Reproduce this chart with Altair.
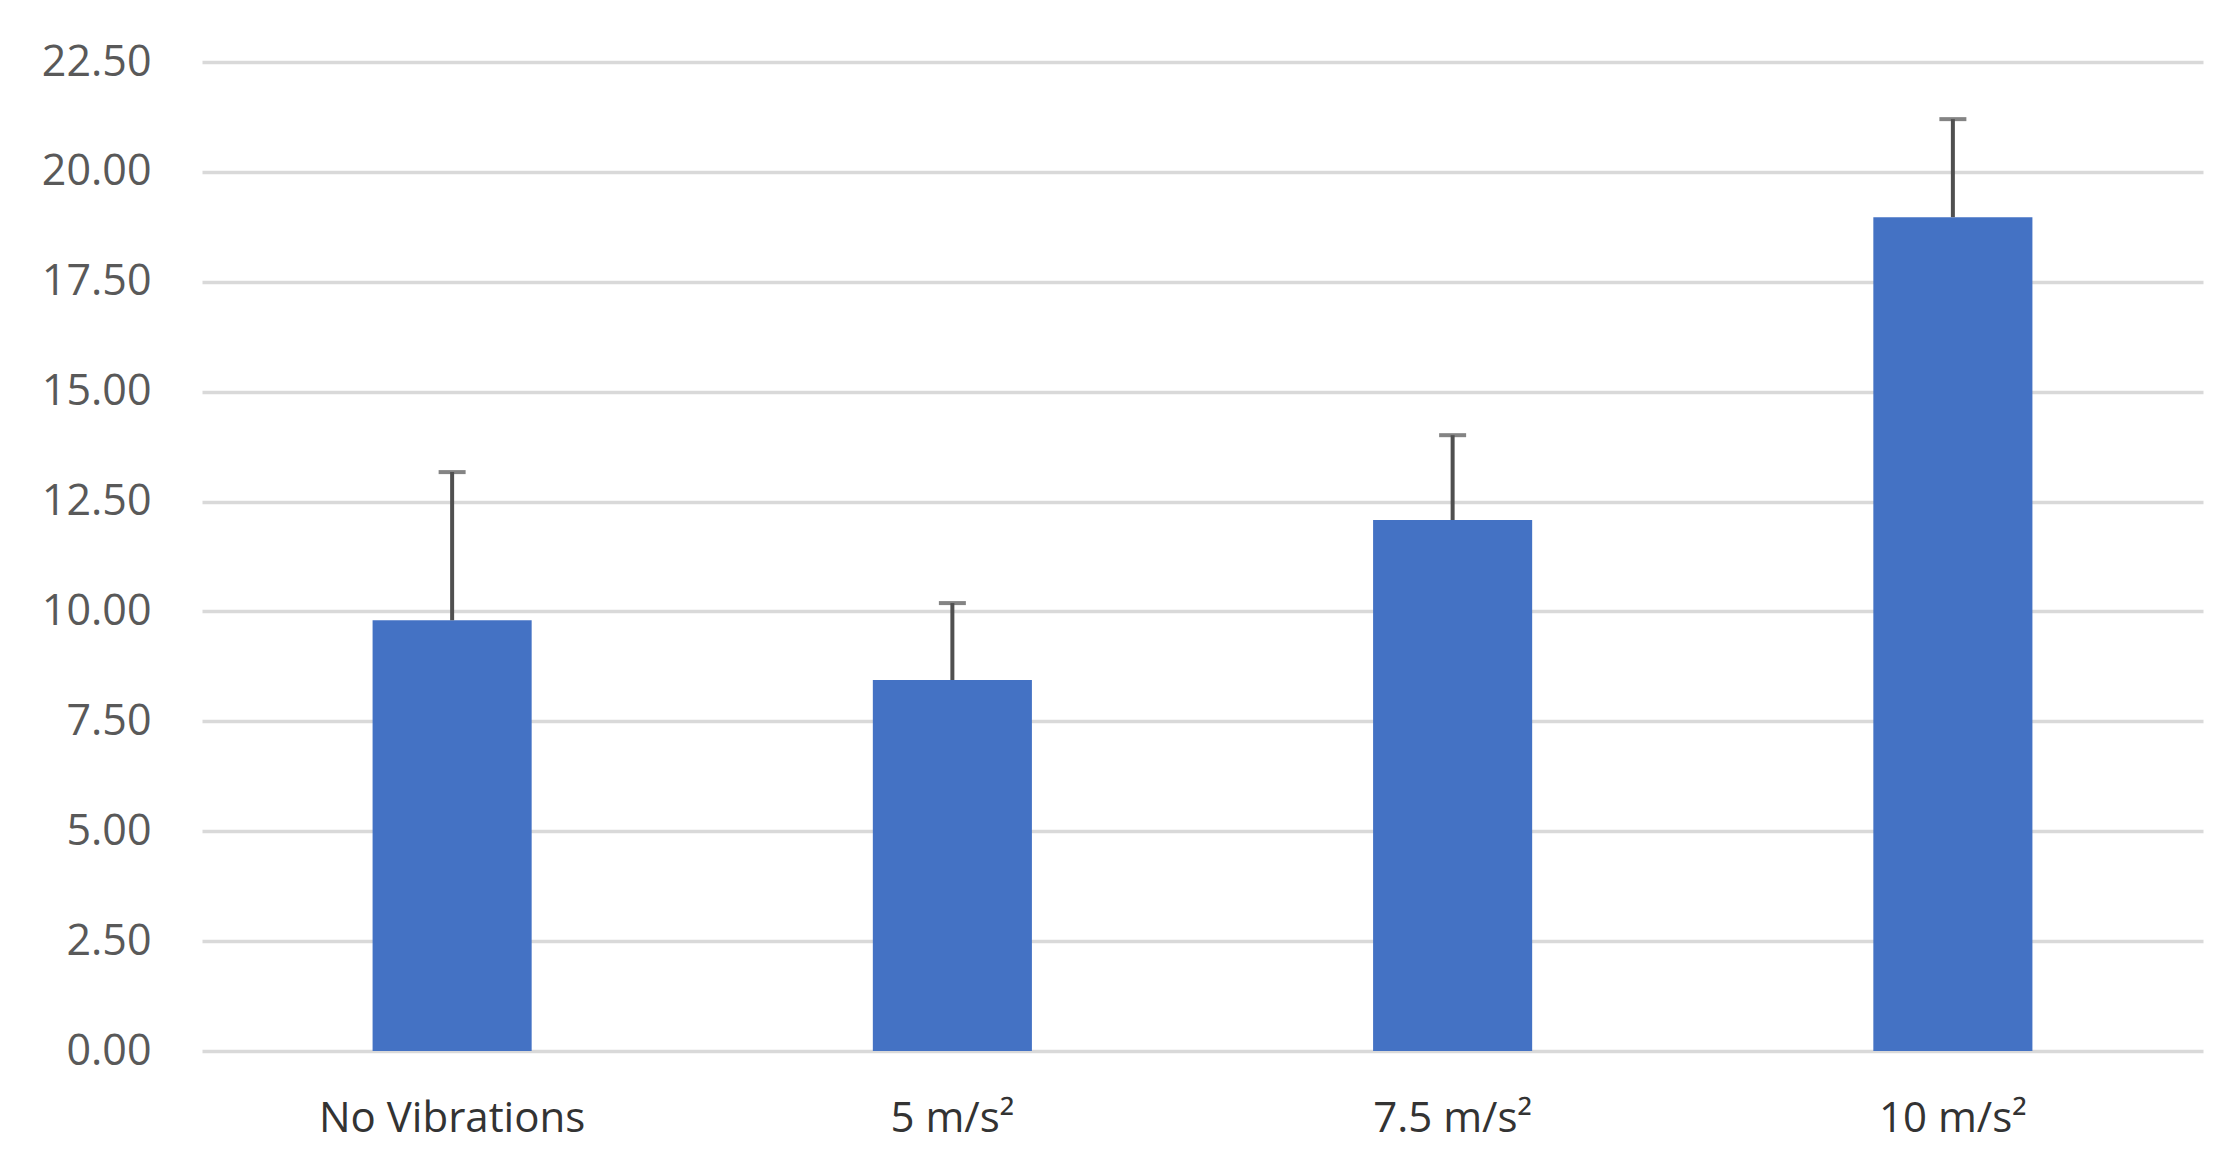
import altair as alt
import pandas as pd

categories = ["No Vibrations", "5 m/s²", "7.5 m/s²", "10 m/s²"]
values = [9.80, 8.44, 12.08, 18.97]
errors = [3.37, 1.75, 1.93, 2.23]
y_ticks = [0, 2.5, 5, 7.5, 10, 12.5, 15, 17.5, 20, 22.5]

df = pd.DataFrame({"cat": categories, "val": values, "err": errors})
df["upper"] = df["val"] + df["err"]

FONT = "Open Sans"

x = alt.X(
    "cat:N",
    sort=categories,
    scale=alt.Scale(paddingInner=0.682, paddingOuter=0.341),
    axis=alt.Axis(
        title=None, labelAngle=0, domain=False, ticks=False, labelPadding=47,
        labelFont=FONT, labelFontSize=42, labelColor="#333333", labelLimit=0,
    ),
)
y_scale = alt.Scale(domain=[0, 22.5], nice=False)

base = alt.Chart(df)

bars = base.mark_bar(color="#4472C4").encode(
    x=x,
    y=alt.Y(
        "val:Q",
        scale=y_scale,
        axis=alt.Axis(
            title=None, values=y_ticks, format=".2f", domain=False, ticks=False,
            labelPadding=51, labelFont=FONT, labelFontSize=43, labelColor="#595959",
            gridColor="#d9d9d9", gridWidth=3.5,
        ),
    ),
)

rule = base.mark_rule(color="#505050", strokeWidth=4).encode(
    x=x, y=alt.Y("val:Q", scale=y_scale), y2="upper:Q"
)

cap = base.mark_tick(color="#505050", size=27, thickness=4).encode(
    x=x, y=alt.Y("upper:Q", scale=y_scale)
)

chart = (
    alt.layer(bars, rule, cap)
    .properties(
        width=2001,
        height=989,
        autosize=alt.AutoSizeParams(type="none"),
        padding={"left": 194, "top": 54, "right": 12, "bottom": 100},
        background="white",
    )
    .configure_view(stroke=None)
)

chart.save("out.html", embed_options={"renderer": "svg", "actions": False})
